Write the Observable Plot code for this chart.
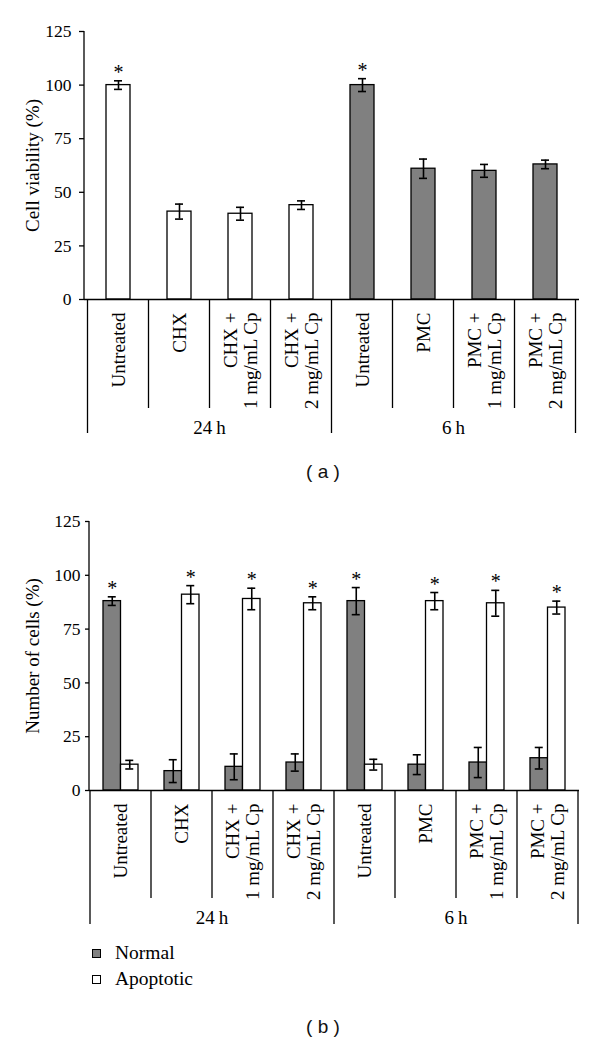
<!DOCTYPE html>
<html><head><meta charset="utf-8">
<script src="https://cdn.jsdelivr.net/npm/d3@7"></script>
<script src="https://cdn.jsdelivr.net/npm/@observablehq/plot@0.6"></script>
<style>
html,body{margin:0;padding:0;background:#fff;}
body{width:600px;height:1042px;position:relative;overflow:hidden;}
.abs{position:absolute;}
.cap{font-family:"Liberation Sans",Arial,sans-serif;font-size:19px;color:#111;text-align:center;line-height:22px;}
.leg{font-family:"Liberation Serif","Times New Roman",serif;font-size:19.5px;color:#000;line-height:22px;}
.sw{position:absolute;width:9px;height:9px;border:1px solid #000;box-sizing:border-box;}
</style></head><body>
<div id="chartA" class="abs" style="left:0;top:0"></div>
<div class="abs cap" style="left:0;width:646px;top:461px">( a )</div>
<div id="chartB" class="abs" style="left:0;top:490px"></div>
<div id="legend"></div>
<div class="abs cap" style="left:0;width:646px;top:1016px">( b )</div>
<script>
// ---------- data ----------
const catKeys = ["24h-Untreated","24h-CHX","24h-CHX1","24h-CHX2","6h-Untreated","6h-PMC","6h-PMC1","6h-PMC2"];
const catLabels = ["Untreated","CHX","CHX +\n1 mg/mL Cp","CHX +\n2 mg/mL Cp","Untreated","PMC","PMC +\n1 mg/mL Cp","PMC +\n2 mg/mL Cp"];
const catGroup = [0,0,0,0,1,1,1,1];
const groupLabels = ["24\u2009h","6\u2009h"];
const groupFills = ["#ffffff","#808080"];

// (a) cell viability
const viability = [100,41,40,44,100,61,60,63];
const viabilityErr = [2,3.5,3,2,3,4.5,3,2];
const viabilitySig = [true,false,false,false,true,false,false,false];

// (b) number of cells
const seriesNames = ["Normal","Apoptotic"];
const seriesColors = ["#808080","#ffffff"];
const normal = [88,9,11,13,88,12,13,15];
const normalErr = [2,5.3,6,4,6.3,4.6,7,5];
const apoptotic = [12,91,89,87,12,88,87,85];
const apoptoticErr = [2,4.2,5,3,2.5,4,6,3];
const sigSeries = ["Normal","Apoptotic","Apoptotic","Apoptotic","Normal","Apoptotic","Apoptotic","Apoptotic"];

const yTicks = [0,25,50,75,100,125];
const yLabelA = "Cell viability (%)";
const yLabelB = "Number of cells (%)";

// ---------- helpers ----------
const SERIF = '"Liberation Serif","Times New Roman",serif';

function decorate(plot, catLen, grpLen, grpLabelOff) {
  const sx = plot.scale("x"), sy = plot.scale("y");
  const n = catKeys.length;
  const r0 = sx.range[0], r1 = sx.range[1];
  const step = sx.step ?? (r1 - r0) / n;
  const bw = sx.bandwidth;
  const edge = i => i < n ? sx.apply(catKeys[i]) + bw / 2 - step / 2
                          : sx.apply(catKeys[n - 1]) + bw / 2 + step / 2;
  const y0 = sy.apply(0), yTop = sy.apply(125);
  const svg = d3.select(plot);
  svg.selectAll('g[aria-label="y-axis tick label"]').attr("font-size", 17.5);
  svg.selectAll('g[aria-label="y-axis tick label"] text').attr("font-size", 17.5);
  const g = svg.append("g").attr("stroke", "#000").attr("stroke-width", 1.3);
  g.append("line").attr("x1", r0).attr("x2", r0).attr("y1", y0).attr("y2", yTop);
  for (let i = 0; i <= n; i++) {
    const isGrp = i === 0 || i === n || catGroup[i] !== catGroup[i - 1];
    const x = edge(i);
    g.append("line").attr("x1", x).attr("x2", x).attr("y1", y0).attr("y2", y0 + (isGrp ? grpLen : catLen));
  }
  groupLabels.forEach((lab, gi) => {
    const idx = catGroup.map((v, i) => v === gi ? i : -1).filter(i => i >= 0);
    const xm = (edge(idx[0]) + edge(idx[idx.length - 1] + 1)) / 2;
    svg.append("text").attr("x", xm).attr("y", y0 + grpLabelOff).attr("dy", "0.35em")
      .attr("text-anchor", "middle").attr("font-family", SERIF).attr("font-size", 19)
      .attr("fill", "#000").text(lab);
  });
}

// ---------- chart (a) ----------
const rowsA = catKeys.map((k, i) => ({k, v: viability[i], e: viabilityErr[i], sig: viabilitySig[i], label: catLabels[i], grp: groupLabels[catGroup[i]]}));

const plotA = Plot.plot({
  width: 600, height: 445,
  marginTop: 31, marginBottom: 146, marginLeft: 84, marginRight: 21,
  style: {fontFamily: SERIF, fontSize: "17px", color: "#000", background: "#fff", overflow: "visible"},
  x: {domain: catKeys, paddingInner: 0.612, paddingOuter: 0.306, axis: null},
  y: {domain: [0, 125], axis: null},
  color: {domain: groupLabels, range: groupFills},
  marks: [
    Plot.axisY({ticks: yTicks, tickSize: 5, tickPadding: 8, fontSize: 17.5, label: null, strokeWidth: 1.3}),
    Plot.barY(rowsA, {x: "k", y: "v", fill: "grp", stroke: "#000", strokeWidth: 1.3}),
    Plot.ruleX(rowsA, {x: "k", y1: d => d.v - d.e, y2: d => d.v + d.e, stroke: "#000", strokeWidth: 1.6}),
    Plot.tickY(rowsA, {x: "k", y: d => d.v + d.e, insetLeft: 8, insetRight: 8, stroke: "#000", strokeWidth: 1.6}),
    Plot.tickY(rowsA, {x: "k", y: d => d.v - d.e, insetLeft: 8, insetRight: 8, stroke: "#000", strokeWidth: 1.6}),
    Plot.text(rowsA.filter(d => d.sig), {x: "k", y: d => d.v + d.e, text: () => "*", lineAnchor: "bottom", fontSize: 20, dy: -2}),
    Plot.ruleY([0], {stroke: "#000", strokeWidth: 1.3}),
    Plot.text(rowsA, {x: "k", text: "label", frameAnchor: "bottom", dy: 13, rotate: -90, textAnchor: "end", lineAnchor: "middle", lineHeight: 1.05, fontSize: 19}),
    Plot.text([yLabelA], {text: d => d, frameAnchor: "left", dx: -52, rotate: -90, textAnchor: "middle", lineAnchor: "middle", fontSize: 19})
  ]
});
decorate(plotA, 109, 134, 128);
document.getElementById("chartA").append(plotA);

// ---------- chart (b) ----------
const rowsB = [];
catKeys.forEach((k, i) => {
  rowsB.push({k, s: "Normal", v: normal[i], e: normalErr[i], sig: sigSeries[i] === "Normal", label: catLabels[i]});
  rowsB.push({k, s: "Apoptotic", v: apoptotic[i], e: apoptoticErr[i], sig: sigSeries[i] === "Apoptotic", label: catLabels[i]});
});
const rowsN = rowsB.filter(d => d.s === "Normal");
const rowsAp = rowsB.filter(d => d.s === "Apoptotic");
const W_B = 600 - 89 - 21;
const padB = 0.4286;
const bwB = (W_B / catKeys.length) * (1 - padB);
const half = bwB / 2, q = bwB / 4, capW = 8;

const plotB = Plot.plot({
  width: 600, height: 446,
  marginTop: 31, marginBottom: 146, marginLeft: 89, marginRight: 21,
  style: {fontFamily: SERIF, fontSize: "17px", color: "#000", background: "#fff", overflow: "visible"},
  x: {domain: catKeys, paddingInner: padB, paddingOuter: padB / 2, axis: null},
  y: {domain: [0, 125], axis: null},
  color: {domain: seriesNames, range: seriesColors},
  marks: [
    Plot.axisY({ticks: yTicks, tickSize: 4, tickPadding: 5, fontSize: 17.5, label: null, strokeWidth: 1.3}),
    Plot.barY(rowsN, {x: "k", y: "v", fill: "s", insetRight: half, stroke: "#000", strokeWidth: 1.3}),
    Plot.barY(rowsAp, {x: "k", y: "v", fill: "s", insetLeft: half, stroke: "#000", strokeWidth: 1.3}),
    Plot.ruleX(rowsN, {x: "k", dx: -q, y1: d => d.v - d.e, y2: d => d.v + d.e, stroke: "#000", strokeWidth: 1.6}),
    Plot.ruleX(rowsAp, {x: "k", dx: q, y1: d => d.v - d.e, y2: d => d.v + d.e, stroke: "#000", strokeWidth: 1.6}),
    Plot.tickY(rowsN, {x: "k", y: d => d.v + d.e, insetLeft: q - capW / 2, insetRight: bwB - q - capW / 2, stroke: "#000", strokeWidth: 1.6}),
    Plot.tickY(rowsN, {x: "k", y: d => d.v - d.e, insetLeft: q - capW / 2, insetRight: bwB - q - capW / 2, stroke: "#000", strokeWidth: 1.6}),
    Plot.tickY(rowsAp, {x: "k", y: d => d.v + d.e, insetLeft: bwB - q - capW / 2, insetRight: q - capW / 2, stroke: "#000", strokeWidth: 1.6}),
    Plot.tickY(rowsAp, {x: "k", y: d => d.v - d.e, insetLeft: bwB - q - capW / 2, insetRight: q - capW / 2, stroke: "#000", strokeWidth: 1.6}),
    Plot.text(rowsN.filter(d => d.sig), {x: "k", dx: -q, y: d => d.v + d.e, text: () => "*", lineAnchor: "bottom", fontSize: 20, dy: -2}),
    Plot.text(rowsAp.filter(d => d.sig), {x: "k", dx: q, y: d => d.v + d.e, text: () => "*", lineAnchor: "bottom", fontSize: 20, dy: -2}),
    Plot.ruleY([0], {stroke: "#000", strokeWidth: 1.3}),
    Plot.text(rowsN, {x: "k", text: "label", frameAnchor: "bottom", dy: 13, rotate: -90, textAnchor: "end", lineAnchor: "middle", lineHeight: 1.05, fontSize: 19}),
    Plot.text([yLabelB], {text: d => d, frameAnchor: "left", dx: -57, rotate: -90, textAnchor: "middle", lineAnchor: "middle", fontSize: 19})
  ]
});
decorate(plotB, 108, 134, 127);
document.getElementById("chartB").append(plotB);

// ---------- legend ----------
const leg = document.getElementById("legend");
seriesNames.forEach((name, i) => {
  const top = 954 + i * 26;
  const sw = document.createElement("div");
  sw.className = "sw";
  sw.style.left = "92px"; sw.style.top = (top - 5) + "px"; sw.style.background = seriesColors[i];
  leg.append(sw);
  const t = document.createElement("div");
  t.className = "abs leg";
  t.style.left = "115px"; t.style.top = (top - 12) + "px";
  t.textContent = name;
  leg.append(t);
});
</script>
</body></html>
